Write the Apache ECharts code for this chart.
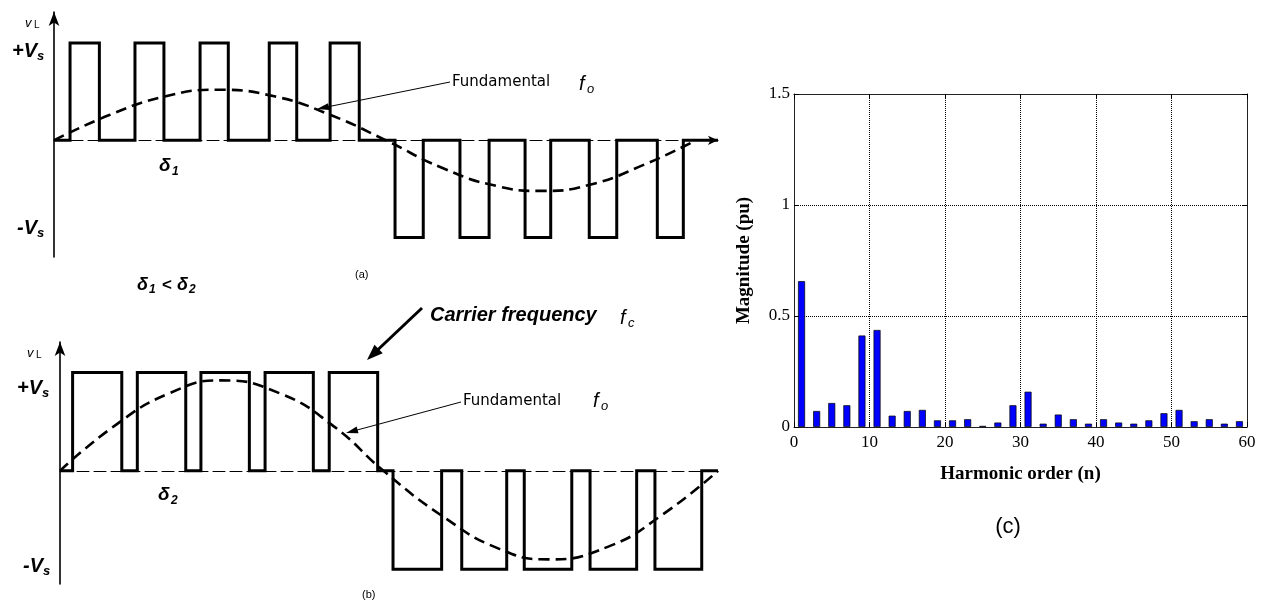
<!DOCTYPE html>
<html><head><meta charset="utf-8">
<script src="https://cdn.jsdelivr.net/npm/echarts@6/dist/echarts.min.js"></script>
<style>html,body{margin:0;padding:0;background:#fff}#c{width:1271px;height:604px}</style>
</head><body><div id="c"></div>
<script>
// ---------- (c) harmonic spectrum ----------
const harmonicOrder = [1,3,5,7,9,11,13,15,17,19,21,23,25,27,29,31,33,35,37,39,41,43,45,47,49,51,53,55,57,59];
const harmonicMagnitude = [0.657,0.072,0.108,0.098,0.412,0.437,0.051,0.072,0.077,0.030,0.030,0.035,0.005,0.020,0.098,0.159,0.015,0.056,0.035,0.015,0.035,0.020,0.015,0.030,0.062,0.077,0.026,0.035,0.015,0.026];
const xTicksC = [0,10,20,30,40,50,60];
const yTicksC = [0,0.5,1,1.5];

// ---------- (a) PWM with narrow pulses (delta1), angle in degrees, level in pu ----------
const pulsesAPos = [[8.7,24.6],[43.9,59.6],[79.2,94.5],[116.7,131.6],[149.7,165.5]];
const pulsesANeg = [[184.9,200.2],[220.1,235.9],[255.4,269.3],[290.2,305.1],[327.1,341.2]];
const fundAAngle = [0,30,60,88,120,150,180,210,240,264,290,320,348];
const fundAValue = [0,0.26,0.45,0.52,0.45,0.26,0,-0.28,-0.47,-0.52,-0.46,-0.25,0];

// ---------- (b) PWM with wide pulses (delta2) ----------
const pulsesBPos = [[6.9,33.8],[42.3,68.8],[77.1,103.6],[112.2,138.6],[147.3,173.8]];
const pulsesBNeg = [[182.2,208.8],[219.8,244.4],[254.0,280.0],[290.0,315.5],[325.5,351.1]];
const fundBAngle = [0,30,60,88,120,150,177,210,240,267,300,330,360];
const fundBValue = [0,0.46,0.79,0.92,0.79,0.45,0,-0.47,-0.79,-0.90,-0.77,-0.44,0];

function stepData(pos, neg, end){
  const d = [[0,0]];
  pos.forEach(p => { d.push([p[0],0],[p[0],1],[p[1],1],[p[1],0]); });
  neg.forEach(p => { d.push([p[0],0],[p[0],-1],[p[1],-1],[p[1],0]); });
  d.push([end,0]);
  return d;
}
const zip = (a,b) => a.map((v,i)=>[v,b[i]]);

const SANS = '"Liberation Sans", Arial, sans-serif';
const SERIF = '"Liberation Serif", "Times New Roman", serif';
const els = [];
function T(x,y,text,font,align){
  els.push({type:'text', x:x, y:y, z:100, style:{text:text, font:font, fill:'#000', align:align||'left', verticalAlign:'middle'}});
}
function arrow(x1,y1,x2,y2,w,len,hw){
  const dx=x2-x1, dy=y2-y1, L=Math.hypot(dx,dy), ux=dx/L, uy=dy/L;
  const bx=x2-ux*len, by=y2-uy*len, nx=-uy, ny=ux;
  els.push({type:'line', z:100, shape:{x1:x1,y1:y1,x2:x2-ux*len*0.5,y2:y2-uy*len*0.5}, style:{stroke:'#000', lineWidth:w}});
  els.push({type:'polygon', z:100, shape:{points:[[x2,y2],[bx+nx*hw,by+ny*hw],[bx-nx*hw,by-ny*hw]]}, style:{fill:'#000'}});
}

// panel (a) labels
T(25,23,'v','italic 13px '+SANS); T(34,25,'L','10px '+SANS);
T(37,51,'+V','bold italic 20px '+SANS,'right'); T(37,56,'s','bold italic 13px '+SANS);
T(37,228,'-V','bold italic 20px '+SANS,'right'); T(37,233,'s','bold italic 13px '+SANS);
T(159,166,'δ','bold italic 19px '+SANS); T(172,172,'1','bold italic 12px '+SANS);
T(137,285,'δ','bold italic 18px '+SANS); T(149,290,'1','bold italic 12px '+SANS);
T(162,285,'<','bold 17px '+SANS);
T(177,285,'δ','bold italic 18px '+SANS); T(189,290,'2','bold italic 12px '+SANS);
T(355,275,'(a)','11px '+SANS);
T(452,82,'Fundamental','15px "DejaVu Sans", sans-serif');
T(579,84,'f','italic 20px '+SANS); T(587,89,'o','italic 13px '+SANS);
arrow(450,82,317,109,1,12,3.5);

// panel (b) labels
T(27,353,'v','italic 13px '+SANS); T(36,355,'L','10px '+SANS);
T(42,388,'+V','bold italic 20px '+SANS,'right'); T(42,393,'s','bold italic 13px '+SANS);
T(43,566,'-V','bold italic 20px '+SANS,'right'); T(43,571,'s','bold italic 13px '+SANS);
T(158,495,'δ','bold italic 19px '+SANS); T(171,501,'2','bold italic 12px '+SANS);
T(362,595,'(b)','11px '+SANS);
T(430,315,'Carrier frequency','bold italic 20px '+SANS);
T(620,318,'f','italic 20px '+SANS); T(628,323,'c','italic 13px '+SANS);
T(463,401,'Fundamental','15px "DejaVu Sans", sans-serif');
T(593,401,'f','italic 20px '+SANS); T(601,406,'o','italic 13px '+SANS);
arrow(461,402,346,433,1,12,3.5);
arrow(422,308,367,360,3,16,6);

// panel (c) caption
T(1008,527,'(c)','22px '+SANS,'center');

const hidden = {show:false};
function waveX(grid, arrowEnd){
  return {type:'value', gridIndex:grid, min:0, max:360,
    axisLine:{show:true, onZero:true, symbol: arrowEnd?['none','arrow']:['none','none'], symbolSize:[7,10],
      lineStyle:{color:'#000', width:1, type:[12,5]}},
    axisTick:hidden, axisLabel:hidden, splitLine:hidden};
}
function waveY(grid, mn, mx){
  return {type:'value', gridIndex:grid, min:mn, max:mx,
    axisLine:{show:true, onZero:true, symbol:['none','arrow'], symbolSize:[8,14], lineStyle:{color:'#000', width:1.6}},
    axisTick:hidden, axisLabel:hidden, splitLine:hidden};
}
const labelC = {color:'#000', fontFamily:SERIF, fontSize:17};
const tickIn = {show:true, inside:true, length:5, lineStyle:{color:'#000'}};
const lineC = {show:true, onZero:false, lineStyle:{color:'#222', width:1}};

const option = {
  backgroundColor:'#fff',
  animation:false,
  grid:[
    {left:54, top:12, width:664, height:245, outerBoundsMode:'none'},
    {left:60, top:342, width:658, height:242, outerBoundsMode:'none'},
    {left:794, top:94, width:453, height:333, outerBoundsMode:'none'}
  ],
  xAxis:[
    waveX(0,true), waveX(1,false),
    {type:'value', gridIndex:2, position:'bottom', min:xTicksC[0], max:xTicksC[xTicksC.length-1], interval:10,
      axisLine:lineC, axisTick:tickIn, axisLabel:Object.assign({margin:7, showMinLabel:true, showMaxLabel:true}, labelC),
      splitLine:{show:true, lineStyle:{color:'#000', type:'dotted', width:1}},
      name:'Harmonic order (n)', nameLocation:'middle', nameGap:38,
      nameTextStyle:{fontFamily:SERIF, fontWeight:'bold', fontSize:19, color:'#000'}},
    {type:'value', gridIndex:2, position:'top', min:0, max:60, interval:10,
      axisLine:lineC, axisTick:tickIn, axisLabel:hidden, splitLine:hidden}
  ],
  yAxis:[
    waveY(0,-1.2,1.32), waveY(1,-1.15,1.31),
    {type:'value', gridIndex:2, position:'left', min:yTicksC[0], max:yTicksC[yTicksC.length-1], interval:0.5,
      axisLine:lineC, axisTick:tickIn, axisLabel:Object.assign({margin:4, showMinLabel:true, showMaxLabel:true}, labelC),
      splitLine:{show:true, lineStyle:{color:'#000', type:'dotted', width:1}},
      name:'Magnitude (pu)', nameLocation:'middle', nameGap:40,
      nameTextStyle:{fontFamily:SERIF, fontWeight:'bold', fontSize:19, color:'#000'}},
    {type:'value', gridIndex:2, position:'right', min:0, max:1.5, interval:0.5,
      axisLine:lineC, axisTick:tickIn, axisLabel:hidden, splitLine:hidden}
  ],
  series:[
    {type:'line', xAxisIndex:0, yAxisIndex:0, data:zip(fundAAngle,fundAValue), smooth:true, showSymbol:false, z:2,
      lineStyle:{color:'#000', width:2.6, type:[11,6]}},
    {type:'line', xAxisIndex:0, yAxisIndex:0, data:stepData(pulsesAPos,pulsesANeg,360), showSymbol:false, z:3,
      lineStyle:{color:'#000', width:3, join:'miter'}},
    {type:'line', xAxisIndex:1, yAxisIndex:1, data:zip(fundBAngle,fundBValue), smooth:true, showSymbol:false, z:2,
      lineStyle:{color:'#000', width:2.6, type:[11,6]}},
    {type:'line', xAxisIndex:1, yAxisIndex:1, data:stepData(pulsesBPos,pulsesBNeg,360), showSymbol:false, z:3,
      lineStyle:{color:'#000', width:3, join:'miter'}},
    {type:'bar', xAxisIndex:2, yAxisIndex:2, data:zip(harmonicOrder,harmonicMagnitude), barWidth:7,
      itemStyle:{color:'#0000ff', borderColor:'#000', borderWidth:0.7}}
  ],
  graphic:{elements:els}
};
const chart = echarts.init(document.getElementById('c'), null, {renderer:'canvas'});
chart.setOption(option);
</script>
</body></html>
